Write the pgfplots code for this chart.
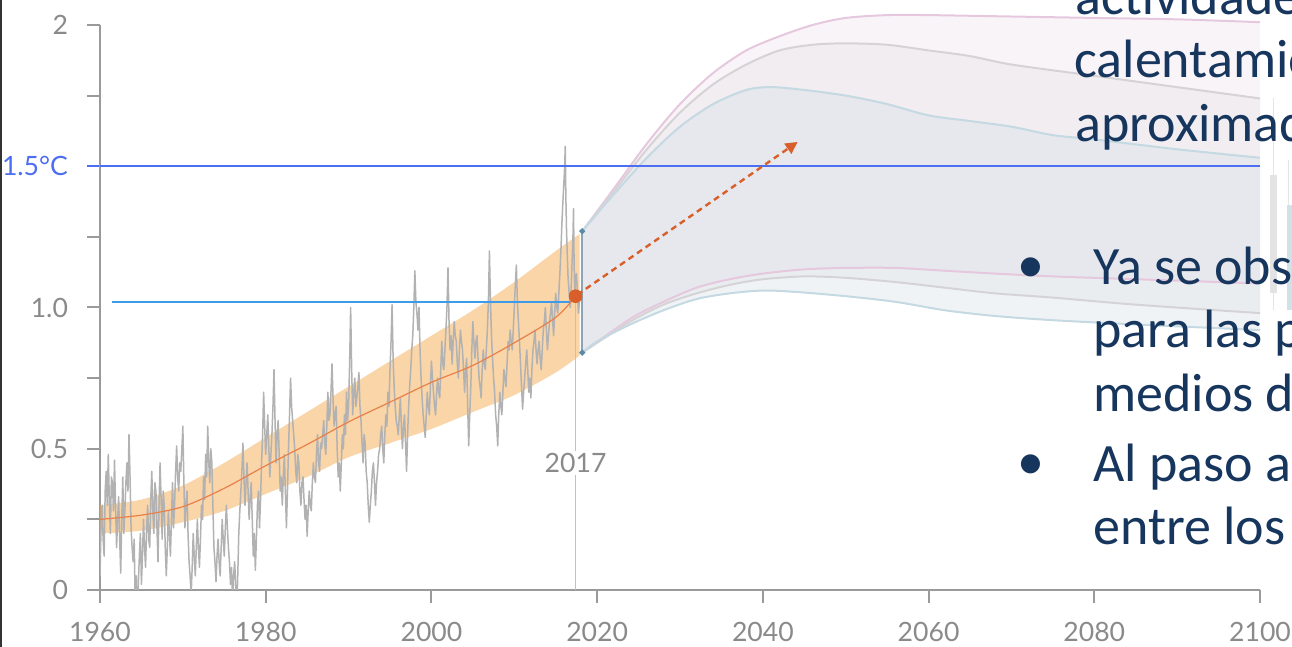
\documentclass[border=0pt]{standalone}
\usepackage{pgfplots}
\pgfplotsset{compat=1.18}
\usepgfplotslibrary{fillbetween}
\usetikzlibrary{arrows.meta}
\usepackage{fontspec}
\setmainfont{Lato}
\newfontfamily\slidefont{Carlito}
\definecolor{axgray}{HTML}{9A9A9A}
\definecolor{lblgray}{HTML}{8A8A8A}
\definecolor{seriesgray}{HTML}{B2B2B2}
\definecolor{bandorange}{RGB}{244,174,88}
\definecolor{lineorange}{HTML}{E8804A}
\definecolor{dotorange}{HTML}{D95F2A}
\definecolor{onefive}{HTML}{4D6EF0}
\definecolor{onezero}{HTML}{3D9BE9}
\definecolor{pinkline}{HTML}{E6C8DE}
\definecolor{grayline}{HTML}{D6D3D6}
\definecolor{blueline}{HTML}{C4D9E2}
\definecolor{pinkfill}{RGB}{235,218,232}
\definecolor{grayfill}{RGB}{222,222,226}
\definecolor{bluefill}{RGB}{212,222,228}
\definecolor{navy}{HTML}{17365D}
\definecolor{vline}{HTML}{8FA3B5}
\definecolor{vdot}{HTML}{5A8AA5}
\begin{document}
\begin{tikzpicture}
\begin{axis}[
  at={(50pt,28.5pt)}, anchor=south west,
  scale only axis, width=580pt, height=290.975pt,
  xmin=1960, xmax=2100, ymin=0, ymax=2.06,
  axis x line*=bottom, axis y line*=left,
  axis line style={draw=axgray, line width=1pt},
  y axis line style={shorten >=8.475pt},
  xtick={1960,1980,2000,2020,2040,2060,2080,2100},
  xticklabels={1960,1980,2000,2020,2040,2060,2080,2100},
  ytick={0,0.25,0.5,0.75,1.0,1.25,1.75,2},
  yticklabels={0,{},0.5,{},1.0,{},{},2},
  extra y ticks={1.5},
  extra y tick labels={1.5°C},
  extra y tick style={tick style={draw=onefive, line width=1pt}, yticklabel style={text=onefive}},
  tick align=outside, major tick length=6.5pt,
  tick style={draw=axgray, line width=1pt},
  ticklabel style={font=\fontsize{13.3}{15}\selectfont, text=lblgray},
  yticklabel style={xshift=-6pt},
  xticklabel style={yshift=-6pt},
]
% projection fans
\addplot[name path=pu, draw=pinkline, line width=1pt, smooth] coordinates {
(2018.2,1.27) (2022,1.42) (2026,1.58) (2030,1.72) (2034,1.83) (2038,1.91) (2042,1.96) (2046,2.00) (2050,2.025) (2055,2.035) (2060,2.035) (2070,2.03) (2080,2.025) (2090,2.02) (2100,2.01)};
\addplot[name path=pl, draw=pinkline, line width=1pt, smooth] coordinates {
(2018.2,0.84) (2024,0.96) (2028,1.02) (2032,1.07) (2036,1.10) (2040,1.12) (2045,1.135) (2050,1.14) (2056,1.14) (2062,1.13) (2068,1.12) (2075,1.11) (2085,1.10) (2100,1.085)};
\addplot[name path=gu, draw=grayline, line width=1pt, smooth] coordinates {
(2018.2,1.27) (2022,1.41) (2026,1.56) (2030,1.69) (2034,1.79) (2038,1.86) (2042,1.91) (2046,1.93) (2050,1.935) (2055,1.93) (2060,1.91) (2065,1.89) (2070,1.86) (2080,1.82) (2090,1.78) (2100,1.74)};
\addplot[name path=gl, draw=grayline, line width=1pt, smooth] coordinates {
(2018.2,0.84) (2024,0.95) (2028,1.01) (2032,1.05) (2036,1.08) (2040,1.10) (2045,1.11) (2050,1.105) (2056,1.09) (2062,1.07) (2068,1.05) (2075,1.035) (2085,1.01) (2100,0.98)};
\addplot[name path=bu, draw=blueline, line width=1pt, smooth] coordinates {
(2018.2,1.27) (2022,1.40) (2026,1.53) (2030,1.64) (2034,1.72) (2038,1.77) (2041,1.78) (2045,1.77) (2050,1.75) (2055,1.72) (2060,1.68) (2065,1.66) (2070,1.64) (2075,1.61) (2080,1.595) (2090,1.56) (2100,1.53)};
\addplot[name path=bl, draw=blueline, line width=1pt, smooth] coordinates {
(2018.2,0.84) (2020,0.88) (2024,0.94) (2028,0.99) (2032,1.03) (2036,1.05) (2040,1.06) (2044,1.055) (2050,1.04) (2056,1.02) (2062,0.99) (2068,0.97) (2075,0.955) (2085,0.94) (2100,0.92)};
\addplot[pinkfill, fill opacity=0.3, draw=none] fill between[of=pu and pl];
\addplot[grayfill, fill opacity=0.3, draw=none] fill between[of=gu and gl];
\addplot[bluefill, fill opacity=0.35, draw=none] fill between[of=bu and bl];
% 2017 marker line
\addplot[draw=seriesgray!80, line width=0.8pt] coordinates {(2017.4,0) (2017.4,1.04)};
% observed temperature series
\addplot[draw=seriesgray, line width=0.75pt, line join=round] coordinates {
(1960.0,0.05) (1960.125,0.22) (1960.25,0.30) (1960.375,0.18) (1960.5,0.12) (1960.625,0.35) (1960.75,0.42) (1960.875,0.30)
(1961.0,0.48) (1961.125,0.32) (1961.25,0.20) (1961.375,0.40) (1961.5,0.38) (1961.625,0.28) (1961.75,0.46) (1961.875,0.30)
(1962.0,0.15) (1962.125,0.25) (1962.25,0.33) (1962.375,0.18) (1962.5,0.06) (1962.625,0.25) (1962.75,0.40) (1962.875,0.20)
(1963.0,0.28) (1963.125,0.38) (1963.25,0.45) (1963.375,0.35) (1963.5,0.55) (1963.625,0.40) (1963.75,0.22) (1963.875,0.15)
(1964.0,0.10) (1964.125,0.18) (1964.25,-0.05) (1964.375,0.05) (1964.5,-0.10) (1964.625,0.02) (1964.75,0.12) (1964.875,0.20)
(1965.0,0.02) (1965.125,0.12) (1965.25,0.25) (1965.375,0.15) (1965.5,0.08) (1965.625,0.22) (1965.75,0.30) (1965.875,0.18)
(1966.0,0.15) (1966.125,0.32) (1966.25,0.42) (1966.375,0.28) (1966.5,0.20) (1966.625,0.38) (1966.75,0.35) (1966.875,0.22)
(1967.0,0.10) (1967.125,0.30) (1967.25,0.45) (1967.375,0.32) (1967.5,0.18) (1967.625,0.35) (1967.75,0.30) (1967.875,0.15)
(1968.0,0.05) (1968.125,0.15) (1968.25,0.28) (1968.375,0.20) (1968.5,0.12) (1968.625,0.25) (1968.75,0.38) (1968.875,0.22)
(1969.0,0.30) (1969.125,0.42) (1969.25,0.51) (1969.375,0.40) (1969.5,0.35) (1969.625,0.45) (1969.75,0.42) (1969.875,0.50)
(1970.0,0.58) (1970.125,0.38) (1970.25,0.22) (1970.375,0.30) (1970.5,0.35) (1970.625,0.20) (1970.75,0.10) (1970.875,0.05)
(1971.0,-0.02) (1971.125,0.08) (1971.25,0.20) (1971.375,0.12) (1971.5,0.05) (1971.625,0.15) (1971.75,0.25) (1971.875,0.15)
(1972.0,0.08) (1972.125,0.18) (1972.25,0.30) (1972.375,0.25) (1972.5,0.40) (1972.625,0.32) (1972.75,0.48) (1972.875,0.40)
(1973.0,0.58) (1973.125,0.45) (1973.25,0.38) (1973.375,0.50) (1973.5,0.45) (1973.625,0.30) (1973.75,0.15) (1973.875,0.10)
(1974.0,0.03) (1974.125,0.12) (1974.25,0.18) (1974.375,0.10) (1974.5,0.05) (1974.625,0.15) (1974.75,0.25) (1974.875,0.18)
(1975.0,0.12) (1975.125,0.22) (1975.25,0.30) (1975.375,0.22) (1975.5,0.15) (1975.625,0.10) (1975.75,0.02) (1975.875,0.08)
(1976.0,-0.05) (1976.125,0.05) (1976.25,0.10) (1976.375,0.02) (1976.5,-0.08) (1976.625,0.05) (1976.75,0.20) (1976.875,0.28)
(1977.0,0.35) (1977.125,0.42) (1977.25,0.52) (1977.375,0.40) (1977.5,0.30) (1977.625,0.38) (1977.75,0.45) (1977.875,0.35)
(1978.0,0.25) (1978.125,0.32) (1978.25,0.38) (1978.375,0.25) (1978.5,0.12) (1978.625,0.20) (1978.75,0.07) (1978.875,0.18)
(1979.0,0.30) (1979.125,0.35) (1979.25,0.22) (1979.375,0.32) (1979.5,0.45) (1979.625,0.55) (1979.75,0.70) (1979.875,0.58)
(1980.0,0.48) (1980.125,0.55) (1980.25,0.62) (1980.375,0.50) (1980.5,0.40) (1980.625,0.48) (1980.75,0.55) (1980.875,0.65)
(1981.0,0.78) (1981.125,0.60) (1981.25,0.45) (1981.375,0.55) (1981.5,0.60) (1981.625,0.48) (1981.75,0.35) (1981.875,0.40)
(1982.0,0.30) (1982.125,0.40) (1982.25,0.48) (1982.375,0.35) (1982.5,0.22) (1982.625,0.35) (1982.75,0.50) (1982.875,0.62)
(1983.0,0.75) (1983.125,0.65) (1983.25,0.60) (1983.375,0.55) (1983.5,0.50) (1983.625,0.42) (1983.75,0.38) (1983.875,0.48)
(1984.0,0.45) (1984.125,0.35) (1984.25,0.30) (1984.375,0.38) (1984.5,0.40) (1984.625,0.32) (1984.75,0.25) (1984.875,0.30)
(1985.0,0.19) (1985.125,0.28) (1985.25,0.35) (1985.375,0.30) (1985.5,0.28) (1985.625,0.38) (1985.75,0.45) (1985.875,0.40)
(1986.0,0.38) (1986.125,0.48) (1986.25,0.55) (1986.375,0.45) (1986.5,0.42) (1986.625,0.52) (1986.75,0.50) (1986.875,0.55)
(1987.0,0.60) (1987.125,0.52) (1987.25,0.48) (1987.375,0.58) (1987.5,0.70) (1987.625,0.60) (1987.75,0.62) (1987.875,0.70)
(1988.0,0.80) (1988.125,0.68) (1988.25,0.58) (1988.375,0.62) (1988.5,0.65) (1988.625,0.50) (1988.75,0.40) (1988.875,0.45)
(1989.0,0.35) (1989.125,0.45) (1989.25,0.55) (1989.375,0.50) (1989.5,0.62) (1989.625,0.55) (1989.75,0.70) (1989.875,0.60)
(1990.0,0.65) (1990.125,0.80) (1990.25,1.00) (1990.375,0.78) (1990.5,0.62) (1990.625,0.70) (1990.75,0.75) (1990.875,0.65)
(1991.0,0.68) (1991.125,0.72) (1991.25,0.77) (1991.375,0.65) (1991.5,0.60) (1991.625,0.52) (1991.75,0.45) (1991.875,0.55)
(1992.0,0.52) (1992.125,0.42) (1992.25,0.38) (1992.375,0.30) (1992.5,0.24) (1992.625,0.30) (1992.75,0.35) (1992.875,0.42)
(1993.0,0.45) (1993.125,0.38) (1993.25,0.30) (1993.375,0.38) (1993.5,0.42) (1993.625,0.48) (1993.75,0.50) (1993.875,0.55)
(1994.0,0.58) (1994.125,0.50) (1994.25,0.45) (1994.375,0.55) (1994.5,0.62) (1994.625,0.58) (1994.75,0.70) (1994.875,0.65)
(1995.0,0.78) (1995.125,0.88) (1995.25,1.01) (1995.375,0.82) (1995.5,0.72) (1995.625,0.65) (1995.75,0.60) (1995.875,0.58)
(1996.0,0.55) (1996.125,0.62) (1996.25,0.68) (1996.375,0.58) (1996.5,0.50) (1996.625,0.58) (1996.75,0.62) (1996.875,0.52)
(1997.0,0.42) (1997.125,0.55) (1997.25,0.65) (1997.375,0.72) (1997.5,0.78) (1997.625,0.85) (1997.75,0.90) (1997.875,1.00)
(1998.0,1.13) (1998.125,1.02) (1998.25,0.98) (1998.375,0.92) (1998.5,1.00) (1998.625,0.85) (1998.75,0.75) (1998.875,0.68)
(1999.0,0.62) (1999.125,0.58) (1999.25,0.54) (1999.375,0.62) (1999.5,0.70) (1999.625,0.65) (1999.75,0.62) (1999.875,0.72)
(2000.0,0.81) (2000.125,0.75) (2000.25,0.70) (2000.375,0.65) (2000.5,0.62) (2000.625,0.70) (2000.75,0.75) (2000.875,0.70)
(2001.0,0.68) (2001.125,0.78) (2001.25,0.88) (2001.375,0.80) (2001.5,0.78) (2001.625,0.85) (2001.75,0.92) (2001.875,1.00)
(2002.0,1.14) (2002.125,0.95) (2002.25,0.85) (2002.375,0.90) (2002.5,0.80) (2002.625,0.88) (2002.75,0.95) (2002.875,0.90)
(2003.0,0.88) (2003.125,0.80) (2003.25,0.75) (2003.375,0.85) (2003.5,0.92) (2003.625,0.88) (2003.75,0.85) (2003.875,0.78)
(2004.0,0.70) (2004.125,0.78) (2004.25,0.82) (2004.375,0.65) (2004.5,0.51) (2004.625,0.62) (2004.75,0.72) (2004.875,0.85)
(2005.0,0.95) (2005.125,0.88) (2005.25,0.82) (2005.375,0.88) (2005.5,0.90) (2005.625,0.82) (2005.75,0.75) (2005.875,0.72)
(2006.0,0.68) (2006.125,0.78) (2006.25,0.85) (2006.375,0.80) (2006.5,0.78) (2006.625,0.85) (2006.75,0.92) (2006.875,1.02)
(2007.0,1.20) (2007.125,1.02) (2007.25,0.90) (2007.375,0.82) (2007.5,0.75) (2007.625,0.70) (2007.75,0.62) (2007.875,0.58)
(2008.0,0.51) (2008.125,0.62) (2008.25,0.70) (2008.375,0.65) (2008.5,0.62) (2008.625,0.70) (2008.75,0.78) (2008.875,0.75)
(2009.0,0.72) (2009.125,0.80) (2009.25,0.88) (2009.375,0.85) (2009.5,0.92) (2009.625,0.88) (2009.75,0.85) (2009.875,0.92)
(2010.0,1.00) (2010.125,1.08) (2010.25,1.15) (2010.375,1.02) (2010.5,0.95) (2010.625,0.88) (2010.75,0.80) (2010.875,0.72)
(2011.0,0.64) (2011.125,0.70) (2011.25,0.75) (2011.375,0.80) (2011.5,0.85) (2011.625,0.78) (2011.75,0.70) (2011.875,0.75)
(2012.0,0.68) (2012.125,0.78) (2012.25,0.85) (2012.375,0.88) (2012.5,0.92) (2012.625,0.85) (2012.75,0.80) (2012.875,0.85)
(2013.0,0.88) (2013.125,0.82) (2013.25,0.78) (2013.375,0.85) (2013.5,0.92) (2013.625,0.95) (2013.75,1.00) (2013.875,0.92)
(2014.0,0.85) (2014.125,0.90) (2014.25,0.95) (2014.375,0.98) (2014.5,1.02) (2014.625,0.95) (2014.75,0.90) (2014.875,0.98)
(2015.0,1.05) (2015.125,1.00) (2015.25,0.98) (2015.375,1.05) (2015.5,1.12) (2015.625,1.20) (2015.75,1.30) (2015.875,1.38)
(2016.0,1.45) (2016.08,1.50) (2016.15,1.57) (2016.22,1.40) (2016.3,1.28) (2016.4,1.18) (2016.5,1.10) (2016.625,1.05)
(2016.75,1.00) (2016.875,1.08) (2017.0,1.18) (2017.08,1.25) (2017.15,1.35) (2017.22,1.15) (2017.3,1.05) (2017.4,1.10)
(2017.5,1.12) (2017.625,1.05) (2017.75,0.98) (2017.85,1.02)};
% observed band
\addplot[name path=ou, draw=none, smooth] coordinates {
(1960,0.30) (1965,0.32) (1970,0.37) (1975,0.45) (1980,0.54) (1985,0.63) (1990,0.72) (1995,0.81) (2000,0.90) (2005,0.99) (2010,1.09) (2015,1.20) (2017.9,1.26)};
\addplot[name path=ol, draw=none, smooth] coordinates {
(1960,0.20) (1965,0.21) (1970,0.24) (1975,0.28) (1980,0.34) (1985,0.40) (1990,0.47) (1995,0.52) (2000,0.57) (2005,0.63) (2010,0.69) (2015,0.77) (2017.9,0.83)};
\addplot[bandorange, fill opacity=0.52, draw=none] fill between[of=ou and ol];
\addplot[draw=lineorange, line width=0.6pt, smooth] coordinates {
(1960,0.25) (1965,0.265) (1970,0.295) (1975,0.36) (1980,0.44) (1985,0.515) (1990,0.595) (1995,0.665) (2000,0.735) (2005,0.795) (2010,0.875) (2015,0.965) (2017.4,1.04)};
% reference lines
\addplot[draw=onezero, line width=0.7pt] coordinates {(1961.4,1.02) (2016.7,1.02)};
\addplot[draw=onefive, line width=1pt] coordinates {(1960,1.5) (2100,1.5)};
% 2018 bar of projections
\addplot[draw=vline, line width=1pt, mark=*, mark size=0.9pt, mark options={fill=vdot, draw=vdot}] coordinates {(2018.2,0.84) (2018.2,1.27)};
% arrow and dot
\addplot[draw=dotorange, line width=1.2pt, dash pattern=on 3pt off 2.2pt, -{Triangle[length=6pt,width=6pt]}] coordinates {(2017.6,1.045) (2044.2,1.586)};
\addplot[only marks, mark=*, mark size=3.2pt, draw=dotorange, fill=dotorange] coordinates {(2017.4,1.04)};
\node[fill=white, inner sep=1pt, text=lblgray, font=\fontsize{13.3}{15}\selectfont] at (axis cs:2017.4,0.45) {2017};
\end{axis}
% slide overlay in pixel coordinates
\begin{scope}[x=0.5pt, y=-0.5pt, yshift=323.5pt]
\clip (0,0) rectangle (1292,647);
\draw[black!80, line width=1.2pt] (0.8,0) -- (0.8,647);
\fill[gray!22] (1270,175) rectangle (1277,293);
\draw[gray!20, line width=0.5pt] (1273,98) -- (1273,175) (1273,293) -- (1273,310);
\draw[gray!20, line width=0.5pt] (1288,160) -- (1288,205);
\fill[blueline!80] (1287,205) rectangle (1292,310);
\begin{scope}[every node/.style={anchor=base west, inner sep=0pt, text=navy, font=\slidefont\fontsize{27}{32}\selectfont}]
\node at (1075,15) {actividades humanas han causado un};
\node at (1074,78) {calentamiento global de};
\node at (1075,142) {aproximadamente 1.0°C con respecto};
\node at (1017,283) {•};
\node at (1093,285) {Ya se observan las consecuencias};
\node at (1093,348) {para las personas, los ecosistemas y los};
\node at (1093,412) {medios de subsistencia};
\node at (1017,480) {•};
\node at (1093,482) {Al paso actual, el calentamiento llegaría};
\node at (1093,545) {entre los años 2030 y 2052};
\end{scope}
\end{scope}
\pgfresetboundingbox
\useasboundingbox (0,0) rectangle (646pt,323.5pt);
\end{tikzpicture}
\end{document}
